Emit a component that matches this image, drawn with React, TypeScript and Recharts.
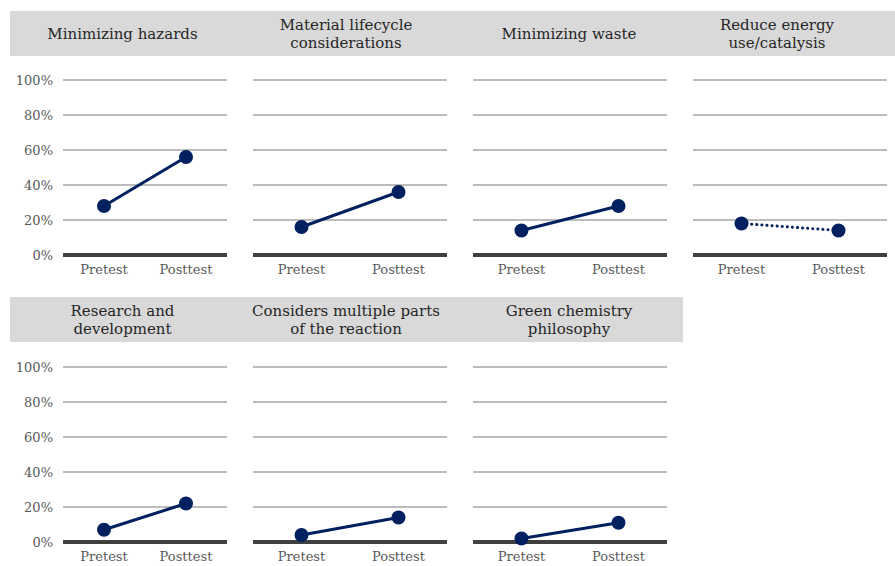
import React from 'react';
import { LineChart, Line, XAxis, YAxis, CartesianGrid } from 'recharts';

const categories = ['Pretest', 'Posttest'];
const panelTitles = [
    ['Minimizing hazards'],
    ['Material lifecycle', 'considerations'],
    ['Minimizing waste'],
    ['Reduce energy', 'use/catalysis'],
    ['Research and', 'development'],
    ['Considers multiple parts', 'of the reaction'],
    ['Green chemistry', 'philosophy'],
];
const pretestValues = [28, 16, 14, 18, 7, 4, 2];
const posttestValues = [56, 36, 28, 14, 22, 14, 11];
const dottedPanels = [3];
const yTicks = [0, 20, 40, 60, 80, 100];

const NAVY = '#002060';
const FONT = '"DejaVu Serif", "Liberation Serif", serif';

interface PanelProps {
    index: number;
    x: number;
    y: number;
    width: number;
    marginTop: number;
    chartHeight: number;
    rightPad: number;
    titleShift: number;
    showY: boolean;
}

const Panel: React.FC<PanelProps> = ({ index, x, y, width, marginTop, chartHeight, rightPad, titleShift, showY }) => {
    const data = categories.map((c, i) => ({
        name: c,
        value: i === 0 ? pretestValues[index] : posttestValues[index],
    }));
    const leftPad = showY ? 53 : 10;
    const plotWidth = width - leftPad - rightPad;
    const pad = plotWidth / 4;
    const dotted = dottedPanels.includes(index);

    return (
        <div style={{ position: 'absolute', left: x, top: y, width }}>
            <div
                style={{
                    height: 45,
                    background: '#d9d9d9',
                    display: 'flex',
                    flexDirection: 'column',
                    justifyContent: 'center',
                    alignItems: 'center',
                    fontSize: 15,
                    lineHeight: '18px',
                    color: '#262626',
                    paddingRight: titleShift,
                    boxSizing: 'border-box',
                }}
            >
                {panelTitles[index].map((t) => (
                    <div key={t}>{t}</div>
                ))}
            </div>
            <LineChart
                width={width}
                height={chartHeight}
                data={data}
                margin={{ top: marginTop, right: rightPad, left: showY ? 0 : leftPad, bottom: 0 }}
            >
                <CartesianGrid vertical={false} stroke="#a6a6a6" strokeWidth={1.5} />
                <XAxis
                    dataKey="name"
                    axisLine={{ stroke: '#404040', strokeWidth: 4 }}
                    tickLine={false}
                    tickSize={0}
                    tickMargin={10}
                    height={chartHeight - marginTop - 175}
                    padding={{ left: pad, right: pad }}
                    tick={{ fill: '#595959', fontSize: 13, fontFamily: FONT }}
                />
                <YAxis
                    hide={!showY}
                    width={53}
                    domain={[0, 100]}
                    ticks={yTicks}
                    axisLine={false}
                    tickLine={false}
                    tickSize={0}
                    tickMargin={10}
                    tickFormatter={(v: number) => `${v}%`}
                    tick={{ fill: '#595959', fontSize: 13, fontFamily: FONT }}
                />
                <Line
                    type="linear"
                    dataKey="value"
                    stroke={NAVY}
                    strokeWidth={3}
                    strokeDasharray={dotted ? '0.1 5' : undefined}
                    strokeLinecap="round"
                    dot={{ r: 7, fill: NAVY, stroke: 'none', strokeDasharray: '' }}
                    isAnimationActive={false}
                />
            </LineChart>
        </div>
    );
};

const App: React.FC = () => {
    const topY = 11;
    const bottomY = 297;
    return (
        <div
            style={{
                position: 'fixed',
                left: 0,
                top: 0,
                width: 895,
                height: 566,
                overflow: 'hidden',
                background: '#fff',
                fontFamily: FONT,
            }}
        >
            <Panel index={0} x={10} y={topY} width={233} marginTop={24} chartHeight={232} rightPad={16} titleShift={8} showY />
            <Panel index={1} x={243} y={topY} width={220} marginTop={24} chartHeight={232} rightPad={16} titleShift={14} showY={false} />
            <Panel index={2} x={463} y={topY} width={220} marginTop={24} chartHeight={232} rightPad={16} titleShift={8} showY={false} />
            <Panel index={3} x={683} y={topY} width={212} marginTop={24} chartHeight={232} rightPad={8} titleShift={24} showY={false} />
            <Panel index={4} x={10} y={bottomY} width={233} marginTop={25} chartHeight={224} rightPad={16} titleShift={8} showY />
            <Panel index={5} x={243} y={bottomY} width={220} marginTop={25} chartHeight={224} rightPad={16} titleShift={14} showY={false} />
            <Panel index={6} x={463} y={bottomY} width={220} marginTop={25} chartHeight={224} rightPad={16} titleShift={8} showY={false} />
        </div>
    );
};

export default App;
